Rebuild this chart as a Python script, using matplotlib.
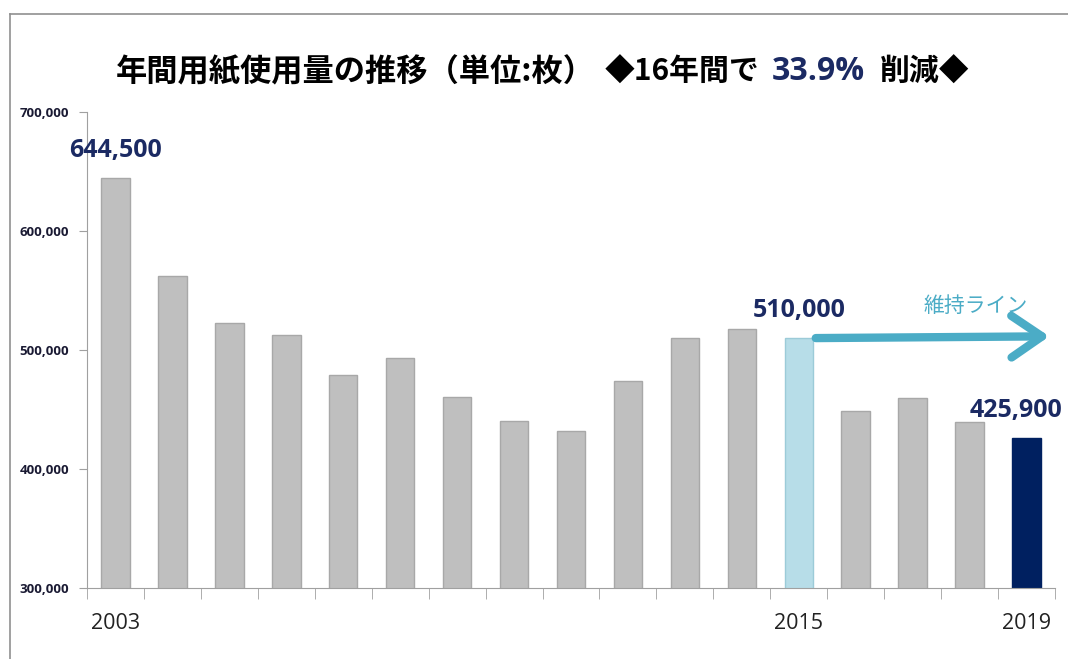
import matplotlib.pyplot as plt
from matplotlib.lines import Line2D
import numpy as np

plt.rcParams['font.family'] = ['Noto Sans CJK JP', 'DejaVu Sans']

years = list(range(2003, 2020))
usage = [644500, 562000, 522700, 512600, 479000, 493300, 460500, 440300,
         431900, 474000, 510000, 517600, 510000, 448700, 459700, 439500, 425900]
shown_years = [2003, 2015, 2019]
callouts = {2003: "644,500", 2015: "510,000", 2019: "425,900"}

navy = '#1b2a63'
grey = '#bfbfbf'
teal = '#4bacc6'
latin = ['Open Sans', 'DejaVu Sans']

colors = [grey] * len(years)
edges = ['#a8a8a8'] * len(years)
colors[years.index(2015)] = '#b7dde8'
edges[years.index(2015)] = '#9ccbd8'
colors[years.index(2019)] = '#002060'
edges[years.index(2019)] = '#002060'

fig = plt.figure(figsize=(10.68, 6.59), dpi=100)
ax = fig.add_axes([87 / 1068, 1 - 588 / 659, (1055 - 87) / 1068, (588 - 112) / 659])

x = np.arange(len(years))
ax.bar(x, usage, width=0.5, color=colors, edgecolor=edges, linewidth=1)

yt = [300000, 400000, 500000, 600000, 700000]
ax.set_ylim(300000, 700000)
ax.set_xlim(-0.5, len(years) - 0.5)
ax.set_yticks(yt)
ax.set_yticklabels([f"{v:,}" for v in yt], fontsize=9.5, fontweight='bold',
                   color='#1a1a33', family=latin)
ax.set_xticks([years.index(y) for y in shown_years])
ax.set_xticklabels([str(y) for y in shown_years], fontsize=15.5, color='#222222', family=latin)
ax.tick_params(axis='x', which='major', length=0, pad=18)
ax.set_xticks(np.arange(-0.5, len(years)), minor=True)
ax.tick_params(axis='x', which='minor', length=8, color='#a0a0a0', direction='out')
ax.tick_params(axis='y', length=6, color='#a0a0a0', pad=7)

for s in ['top', 'right']:
    ax.spines[s].set_visible(False)
for s in ['left', 'bottom']:
    ax.spines[s].set_color('#a0a0a0')

for y, txt in callouts.items():
    i = years.index(y)
    dx = -0.18 if y == 2019 else 0
    ax.annotate(txt, (i + dx, usage[i]), xytext=(0, 11), textcoords='offset points',
                ha='center', va='bottom', fontsize=18, fontweight='bold', color=navy,
                family=latin)

# keep line arrow
i15 = years.index(2015)
ax.annotate('', xy=(16.45, usage[i15] + 1500), xytext=(i15 + 0.25, usage[i15]),
            arrowprops=dict(arrowstyle='->,head_length=1.1,head_width=0.75',
                            color=teal, lw=6, mutation_scale=20), annotation_clip=False)
ax.text(15.1, 537000, '維持ライン', color=teal, fontsize=15, ha='center', va='center')

# title pieces
ty = 1 - 72 / 659
fig.text(116 / 1068, ty, '年間用紙使用量の推移（単位:枚）', fontsize=22.5, fontweight='bold', va='center')
fig.text(605 / 1068, ty, '◆16年間で', fontsize=21.5, fontweight='bold', va='center')
fig.text(772 / 1068, ty, '33.9%', fontsize=23, fontweight='bold', color=navy, va='center',
         family=latin)
fig.text(880 / 1068, ty, '削減◆', fontsize=21.5, fontweight='bold', va='center')

# frame lines
fig.add_artist(Line2D([10 / 1068, 1], [1 - 14 / 659] * 2, color='#909090', lw=1.2))
fig.add_artist(Line2D([10 / 1068] * 2, [0, 1 - 14 / 659], color='#909090', lw=1.2))

fig.savefig('out.png', dpi=100)
